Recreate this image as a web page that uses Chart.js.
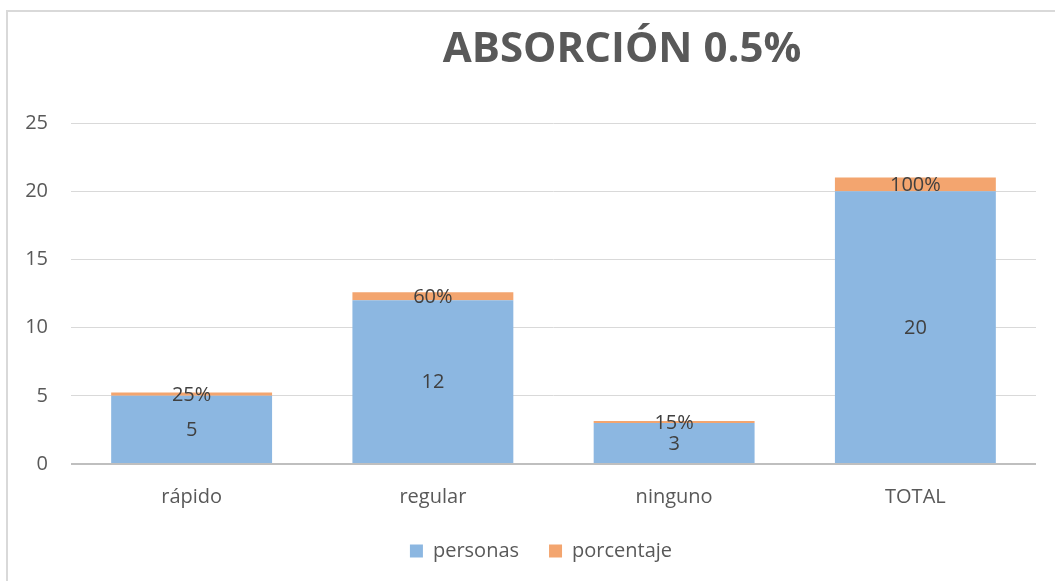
<!DOCTYPE html>
<html>
<head>
<meta charset="utf-8">
<script src="https://cdn.jsdelivr.net/npm/chart.js@4/dist/chart.umd.min.js"></script>
<style>
  body { margin: 0; overflow: hidden; background: #fff; }
  #frame {
    position: absolute; left: 6px; top: 10px; width: 1100px; height: 620px;
    border-left: 2px solid #d9d9d9; border-top: 2px solid #d9d9d9;
  }
  #wrap { position: absolute; left: 0; top: 0; }
</style>
</head>
<body>
<div id="frame"></div>
<div id="wrap"><canvas id="chart" width="1055" height="581"></canvas></div>
<script>
// datos
const categorias = ['rápido', 'regular', 'ninguno', 'TOTAL'];
const personas = [5, 12, 3, 20];
const porcentaje = [0.25, 0.60, 0.15, 1.00];
const ticksY = [0, 5, 10, 15, 20, 25];

const titulo = 'ABSORCIÓN 0.5%';

// título dibujado a mano (desplazado como en el original)
const tituloPlugin = {
  id: 'tituloPlugin',
  afterDraw(chart) {
    const ctx = chart.ctx;
    ctx.save();
    ctx.font = 'bold 42px "Open Sans"';
    ctx.fillStyle = '#595959';
    ctx.textAlign = 'center';
    ctx.textBaseline = 'middle';
    ctx.fillText(titulo, 622, 50);
    ctx.restore();
  }
};

// la leyenda del original está un poco a la derecha
const leyendaPlugin = {
  id: 'leyendaPlugin',
  afterLayout(chart) {
    if (chart.legend) {
      chart.legend.left += 20;
      chart.legend.right += 20;
    }
  }
};

// etiquetas de datos en el centro de cada segmento
const etiquetasPlugin = {
  id: 'etiquetasPlugin',
  afterDatasetsDraw(chart) {
    const ctx = chart.ctx;
    ctx.save();
    ctx.font = '20px "Open Sans"';
    ctx.fillStyle = '#404040';
    ctx.textAlign = 'center';
    ctx.textBaseline = 'middle';
    chart.data.datasets.forEach((ds, i) => {
      chart.getDatasetMeta(i).data.forEach((bar, j) => {
        const v = ds.data[j];
        const txt = i === 0 ? String(v) : Math.round(v * 100) + '%';
        ctx.fillText(txt, bar.x, (bar.y + bar.base) / 2 + 1);
      });
    });
    ctx.restore();
  }
};

const ctx = document.getElementById('chart').getContext('2d');
new Chart(ctx, {
  type: 'bar',
  data: {
    labels: categorias,
    datasets: [
      {
        label: 'personas',
        data: personas,
        backgroundColor: '#8cb7e1'
      },
      {
        label: 'porcentaje',
        data: porcentaje,
        backgroundColor: '#f3a56f'
      }
    ]
  },
  options: {
    responsive: false,
    animation: false,
    layout: { padding: { left: 6, right: 19, top: 123, bottom: 10 } },
    datasets: {
      bar: { barPercentage: 0.667, categoryPercentage: 1 }
    },
    scales: {
      x: {
        stacked: true,
        grid: { display: false },
        border: { display: false },
        ticks: { color: '#595959', font: { family: 'Open Sans', size: 20 }, padding: 13 },
        afterFit(s) { s.height = 47; }
      },
      y: {
        stacked: true,
        min: 0,
        max: 25,
        afterBuildTicks(s) { s.ticks = ticksY.map(v => ({ value: v })); },
        grid: {
          drawTicks: false,
          color: c => c.tick && c.tick.value === 0 ? '#bfbfbf' : '#d9d9d9',
          lineWidth: c => c.tick && c.tick.value === 0 ? 2 : 1
        },
        border: { display: false },
        ticks: { color: '#595959', font: { family: 'Open Sans', size: 20 }, padding: 23 },
        afterFit(s) { s.width = 65; }
      }
    },
    plugins: {
      legend: {
        position: 'bottom',
        labels: {
          boxWidth: 13,
          boxHeight: 13,
          padding: 30,
          color: '#595959',
          font: { family: 'Open Sans', size: 20 }
        }
      },
      tooltip: { enabled: false },
      title: { display: false }
    }
  },
  plugins: [tituloPlugin, leyendaPlugin, etiquetasPlugin]
});
</script>
</body>
</html>
